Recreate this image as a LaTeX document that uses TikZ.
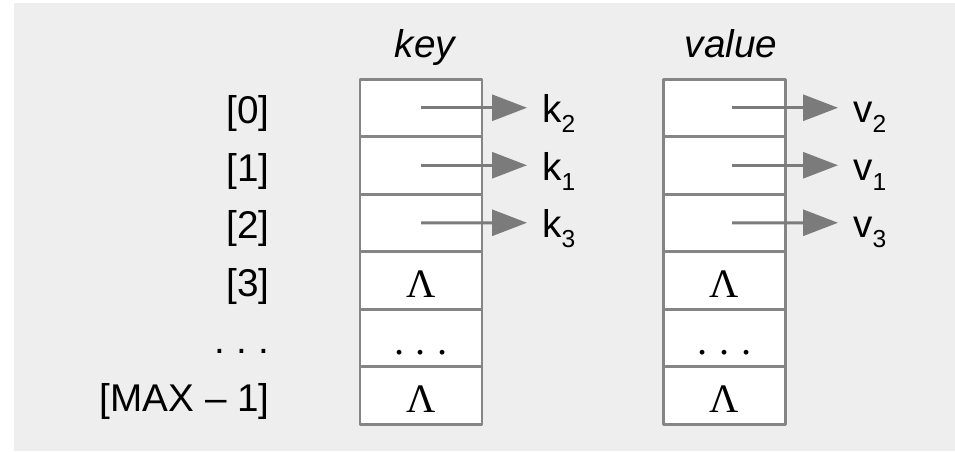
\documentclass[tikz,border=0pt]{standalone}
\usepackage{fontspec}
\setmainfont{Liberation Sans}
\newfontfamily\lamfont{Liberation Serif}
\usetikzlibrary{arrows.meta}
\definecolor{bggray}{HTML}{EEEEEE}
\definecolor{boxgray}{HTML}{858585}
\definecolor{ptrgray}{HTML}{7B7B7B}
\newcommand\lowsub[1]{\raisebox{-5.7pt}{\fontsize{14}{16}\selectfont #1}}
\newcommand\nilmark{{\lamfont\fontsize{23}{26}\selectfont Λ}}
\newcommand\celldots{{\lamfont\fontsize{23}{26}\selectfont .\hspace{6.7pt}.\hspace{6.7pt}.}}
\tikzset{
  cell/.style={draw=boxgray, fill=white, line width=1.7pt, minimum width=2.44cm,
    minimum height=1.15cm, inner sep=0pt, text height=.68cm, text depth=0pt},
  idx/.style={anchor=east, inner sep=0pt, text height=.64cm, text depth=0pt},
  item/.style={anchor=west, inner xsep=.3cm, inner ysep=0pt, text height=.6cm, text depth=0pt},
  ptr/.style={draw=ptrgray, line width=1.7pt, -{Triangle[length=.7cm, width=.52cm]}, ptrgray},
}
\begin{document}
\begin{tikzpicture}[font=\fontsize{22}{26}\selectfont, line join=round]
	\useasboundingbox (0,0) rectangle (19.1,-9.02);
	\fill[bggray] (0.28,-0.06) rectangle (19.1,-9.02);
	% column heads
	\node[anchor=base] (keyhead) at (8.5,-1.14) {\itshape key};
	\node[anchor=base] (valhead) at (14.62,-1.14) {\itshape value};
	% the two arrays
	\foreach \i/\c in {0/{},1/{},2/{},3/\nilmark,4/\celldots,5/\nilmark}{
		\node[cell] (key\i) at (8.42,{-2.155-1.15*\i}) {\c};
		\node[cell] (val\i) at (14.49,{-2.155-1.15*\i}) {\c};
	}
	% subscripts
	\node[idx] (ix0) at (5.4,-2.155) {[0]};
	\node[idx] (ix1) at (5.4,-3.305) {[1]};
	\node[idx] (ix2) at (5.4,-4.455) {[2]};
	\node[idx] (ix3) at (5.4,-5.605) {[3]};
	\node[idx] (ix4) at (5.4,-6.755) {.\hspace{6.4pt}.\hspace{6.4pt}.};
	\node[idx] (ix5) at (5.4,-7.905) {[MAX -- 1]};
	% keys and values the slots point to
	\node[item] (k0) at (10.54,-2.155) {k\lowsub{2}};
	\node[item] (k1) at (10.54,-3.305) {k\lowsub{1}};
	\node[item] (k2) at (10.54,-4.455) {k\lowsub{3}};
	\node[item] (v0) at (16.76,-2.155) {v\lowsub{2}};
	\node[item] (v1) at (16.76,-3.305) {v\lowsub{1}};
	\node[item] (v2) at (16.76,-4.455) {v\lowsub{3}};
	\foreach \i in {0,1,2}{
		\draw[ptr] (key\i.center) -- (k\i.west);
		\draw[ptr] ([xshift=.15cm]val\i.center) -- (v\i.west);
	}
\end{tikzpicture}
\end{document}
